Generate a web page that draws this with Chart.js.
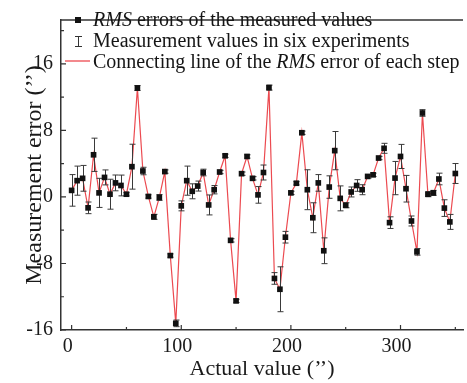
<!DOCTYPE html>
<html><head><meta charset="utf-8">
<script src="https://cdn.jsdelivr.net/npm/chart.js@4.4.1/dist/chart.umd.min.js"></script>
<style>
html,body{margin:0;padding:0;background:#fff;}
#wrap{position:relative;width:467px;height:383px;overflow:hidden;background:#fff;}
#c{position:absolute;left:0;top:0;}
.leg{position:absolute;left:93px;font-family:'Liberation Serif','Times New Roman',serif;font-size:20px;color:#151515;white-space:nowrap;line-height:21px;}
</style></head><body>
<div id="wrap">
<canvas id="c" width="467" height="383"></canvas>
<div class="leg" style="top:9px"><i>RMS</i> errors of the measured values</div>
<div class="leg" style="top:30px">Measurement values in six experiments</div>
<div class="leg" style="top:51px">Connecting line of the <i>RMS</i> error of each step</div>
</div>
<script>
// Actual values (″) of each step
const actualValues = [0,5,10,15,20,25,30,35,40,45,50,55,60,65,70,75,80,85,90,95,
  100,105,110,115,120,125,130,135,140,145,150,155,160,165,170,175,180,185,190,195,
  200,205,210,215,220,225,230,235,240,245,250,255,260,265,270,275,280,285,290,295,
  300,305,310,315,320,325,330,335,340,345,350];
// RMS error of each step (″)
const rmsErrors = [0.79,1.96,2.24,-1.31,5.07,0.49,2.35,0.33,1.69,1.38,
  0.33,3.64,13.1,3.12,0.06,-2.39,-0.06,3.05,-7.05,-15.2,
  -1.07,1.96,0.68,1.31,2.94,-0.96,0.87,3.0,4.95,-5.22,
  -12.5,2.8,4.87,2.24,0.25,2.94,13.15,-9.8,-11.1,-4.84,
  0.49,1.65,7.72,0.87,-2.5,1.69,-6.47,1.19,5.57,-0.17,
  -1.0,0.6,1.38,0.87,2.47,2.66,4.68,5.85,-3.09,2.27,
  4.87,0.99,-2.89,-6.6,10.1,0.33,0.49,2.16,-1.34,-3.0,2.82];
// half spread of the six experiments (″)
const spread = [1.9,1.75,1.55,0.7,2.0,1.75,0.9,1.8,0.95,1.25,
  0.2,2.7,0.3,0.45,0.2,0.3,0.35,0.2,0.2,0.4,
  0.6,1.75,0.9,0.6,0.4,1.2,0.5,0.2,0.2,0.2,
  0.2,0.2,0.2,0.2,1.0,0.9,0.3,0.7,2.7,0.7,
  0.2,0.2,0.2,2.4,1.8,1.0,1.55,1.35,2.3,1.5,
  0.3,0.6,0.7,0.6,0.2,0.2,0.2,0.6,0.7,2.0,
  1.45,1.6,0.6,0.4,0.4,0.3,0.3,0.7,1.0,0.9,1.2];
const xTickLabels = [0,100,200,300];
const xMinorTicks = [50,150,250,350];
const yTickLabels = [-16,-8,0,8,16];
const yMinorTicks = [-12,-4,4,12,20];

const serif = "'Liberation Serif','Times New Roman',serif";
const pts = actualValues.map((x,i)=>({x:x,y:rmsErrors[i]}));

const errorBarPlugin = {
  id:'errorBars',
  afterDatasetDraw(chart,args){
    if(args.index!==1) return;
    const ctx=chart.ctx, xs=chart.scales.x, ys=chart.scales.y;
    ctx.save();
    ctx.strokeStyle='#3a3a3a'; ctx.lineWidth=1;
    actualValues.forEach((x,i)=>{
      const px=Math.round(xs.getPixelForValue(x))+0.5;
      const top=ys.getPixelForValue(rmsErrors[i]+spread[i]);
      const bot=ys.getPixelForValue(rmsErrors[i]-spread[i]);
      ctx.beginPath();
      ctx.moveTo(px,top);ctx.lineTo(px,bot);
      ctx.moveTo(px-3,top);ctx.lineTo(px+3,top);
      ctx.moveTo(px-3,bot);ctx.lineTo(px+3,bot);
      ctx.stroke();
    });
    ctx.restore();
  }
};
const framePlugin = {
  id:'frame',
  afterDraw(chart){
    const ctx=chart.ctx, a=chart.chartArea, xs=chart.scales.x, ys=chart.scales.y;
    ctx.save();
    ctx.strokeStyle='#333'; ctx.lineWidth=1.5;
    ctx.beginPath(); ctx.moveTo(a.left,a.top); ctx.lineTo(a.right,a.top); ctx.stroke();
    ctx.lineWidth=1.2;
    ctx.beginPath();
    xTickLabels.forEach(v=>{const p=xs.getPixelForValue(v);ctx.moveTo(p,a.bottom);ctx.lineTo(p,a.bottom-5);});
    xMinorTicks.forEach(v=>{const p=xs.getPixelForValue(v);ctx.moveTo(p,a.bottom);ctx.lineTo(p,a.bottom-3);});
    yTickLabels.forEach(v=>{const p=ys.getPixelForValue(v);ctx.moveTo(a.left,p);ctx.lineTo(a.left+5,p);});
    yMinorTicks.forEach(v=>{const p=ys.getPixelForValue(v);ctx.moveTo(a.left,p);ctx.lineTo(a.left+3,p);});
    ctx.stroke();
    // legend symbols
    ctx.fillStyle='#111';
    ctx.fillRect(75,17,6,6);
    ctx.strokeStyle='#333'; ctx.lineWidth=1;
    ctx.beginPath();
    ctx.moveTo(78.5,36);ctx.lineTo(78.5,47);
    ctx.moveTo(75,36.5);ctx.lineTo(82,36.5);
    ctx.moveTo(75,46.5);ctx.lineTo(82,46.5);
    ctx.stroke();
    ctx.strokeStyle='#ec4a50'; ctx.lineWidth=1.3;
    ctx.beginPath(); ctx.moveTo(65,61); ctx.lineTo(90,61); ctx.stroke();
    ctx.restore();
  }
};

new Chart(document.getElementById('c'),{
  type:'line',
  data:{datasets:[
    {label:'RMS errors of the measured values',data:pts,showLine:false,
     pointStyle:'rect',pointRadius:4,pointBackgroundColor:'#111',pointBorderWidth:0,order:0},
    {label:'Connecting line of the RMS error of each step',data:pts,borderColor:'#ec4a50',
     borderWidth:1.2,pointRadius:0,tension:0,fill:false,order:1}
  ]},
  options:{
    responsive:false,animation:false,devicePixelRatio:1,
    layout:{padding:{top:12,right:0,left:0,bottom:0}},
    plugins:{legend:{display:false},tooltip:{enabled:false}},
    scales:{
      x:{type:'linear',min:-9.7,max:357,
        grid:{display:false,drawTicks:false},
        border:{display:true,color:'#333',width:1.5},
        afterBuildTicks:s=>{s.ticks=xTickLabels.map(v=>({value:v}));},
        afterFit:s=>{s.height=53;},
        ticks:{font:{family:serif,size:20},color:'#1a1a1a',padding:5,labelOffset:-4,maxRotation:0,autoSkip:false},
        title:{display:true,text:'Actual value (’’)',font:{family:serif,size:22},color:'#1a1a1a',padding:{top:0,bottom:1}}
      },
      y:{type:'linear',min:-16,max:21.28,
        grid:{display:false,drawTicks:false},
        border:{display:true,color:'#333',width:1.5},
        afterBuildTicks:s=>{s.ticks=yTickLabels.map(v=>({value:v}));},
        afterFit:s=>{s.width=61;},
        ticks:{font:{family:serif,size:20},color:'#1a1a1a',padding:8,autoSkip:false},
        title:{display:true,text:'Measurement error (’’)',font:{family:serif,size:24},color:'#1a1a1a',padding:{top:20,bottom:0}}
      }
    }
  },
  plugins:[errorBarPlugin,framePlugin]
});
</script>
</body></html>
